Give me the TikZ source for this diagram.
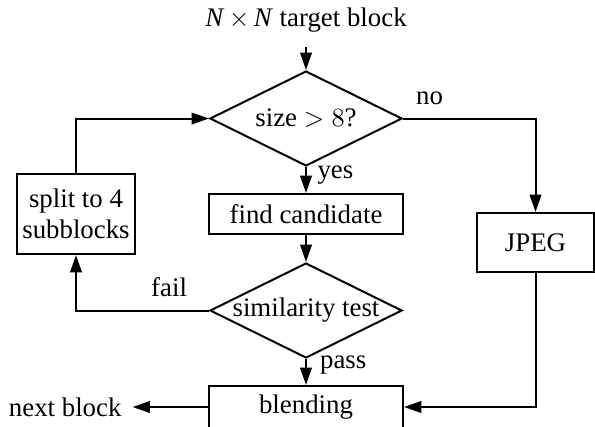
\documentclass[tikz,border=0pt]{standalone}
\usepackage{fontspec}
\setmainfont{Liberation Serif}
\usetikzlibrary{shapes.geometric,arrows.meta}
\tikzset{
  every node/.style={font=\fontsize{10.2pt}{12pt}\selectfont},
  box/.style={draw, rectangle, line width=0.76pt, inner sep=0pt, align=center},
  dia/.style={draw, diamond, line width=0.76pt, inner sep=0pt, minimum width=73pt, minimum height=36.1pt},
  arr/.style={line width=0.76pt, -{Triangle[length=6.6pt,width=4.4pt]}},
  lbl/.style={inner sep=0pt}
}
\begin{document}
\begin{tikzpicture}[x=0.38pt,y=-0.38pt]
\useasboundingbox (0,0) rectangle (595,426);
\node[lbl] (start) at (306,20) {\textit{N}\,$\times$\,\textit{N} target block};
\node[dia] (d1) at (306,118.5) {\makebox[0pt]{size $>8$?}};
\node[box, minimum width=73.7pt, minimum height=15.2pt] (find) at (306,214) {find candidate};
\node[dia] (d2) at (306,310.5) {\makebox[0pt]{similarity test}};
\node[box, minimum width=73.7pt, minimum height=16pt] (blend) at (306,407) {blending};
\node[box, minimum width=44.5pt, minimum height=22.4pt] (jpeg) at (535.5,242.5) {JPEG};
\node[box, minimum width=44.8pt, minimum height=30.4pt] (split) at (76,214) {split to 4\\subblocks};
\node[lbl, anchor=east] (next) at (122,407) {next block};

\draw[arr, shorten <=5.5pt] (start) -- (d1.north);
\draw[arr] (d1.south) -- node[lbl, right=4pt, pos=0.3] {yes} (find.north);
\draw[arr] (find.south) -- (d2.north);
\draw[arr] (d2.south) -- node[lbl, right=5pt, pos=0.25] {pass} (blend.north);
\draw[arr] (d1.east) -| node[lbl, pos=0.1, above=5pt] {no} (jpeg.north);
\draw[arr] (jpeg.south) |- (blend.east);
\draw[arr] (d2.west) -| node[lbl, pos=0.15, above=5pt] {fail} (split.south);
\draw[arr] (split.north) |- (d1.west);
\draw[arr, shorten >=4pt] (blend.west) -- (next.east);
\end{tikzpicture}
\end{document}
